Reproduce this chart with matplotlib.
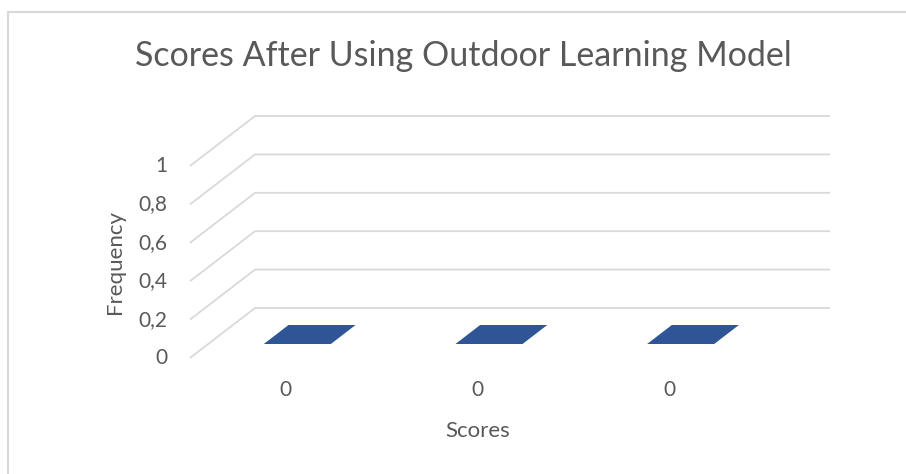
import matplotlib.pyplot as plt
from matplotlib.patches import Polygon, Rectangle

# === DATA ===
categories = ["0", "0", "0"]
frequency = [0, 0, 0]
y_ticks = [0, 0.2, 0.4, 0.6, 0.8, 1]
y_tick_labels = ["0", "0,2", "0,4", "0,6", "0,8", "1"]

bar_color = "#2F5597"
grid_color = "#D9D9D9"
text_color = "#595959"
font = "Lato"

W, H = 906, 474
fig = plt.figure(figsize=(W / 100, H / 100), dpi=100)

# front plane of the pseudo-3D plot: x 190..765 px, y(0)=358 px, y(1)=166 px
ax = fig.add_axes([190 / W, (H - 358) / H, 575 / W, 192 / H])
ax.set_xlim(-0.5, len(categories) - 0.5)
ax.set_ylim(0, 1)
ax.axis("off")

# depth offset (back wall) in data units
DX = 65 / 575 * len(categories)
DY = 50 / 192


def proj(x, y, d):
    return (x + d * DX, y + d * DY)


x_left, x_right = ax.get_xlim()

# gridlines: diagonal on the side wall + horizontal on the back wall
for t in y_ticks:
    p0 = proj(x_left, t, 0)
    p1 = proj(x_left, t, 1)
    p2 = proj(x_right, t, 1)
    ax.plot([p0[0], p1[0], p2[0]], [p0[1], p1[1], p2[1]],
            color=grid_color, lw=1.3, clip_on=False, solid_capstyle="butt")

# bars (flat tops since values are 0)
bw = 0.35
d1, d2 = 0.28, 0.66
for i, v in enumerate(frequency):
    x0 = i - bw / 2 - 0.035
    x1 = i + bw / 2 - 0.035
    pts = [proj(x0, v, d1), proj(x1, v, d1), proj(x1, v, d2), proj(x0, v, d2)]
    ax.add_patch(Polygon(pts, closed=True, facecolor=bar_color,
                         edgecolor="none", clip_on=False))

# tick labels
for t, lab in zip(y_ticks, y_tick_labels):
    ax.annotate(lab, xy=(x_left, t), xytext=(-23, 0), textcoords="offset pixels",
                ha="right", va="center", fontsize=15, color=text_color,
                family=font, annotation_clip=False)

for i, lab in enumerate(categories):
    ax.annotate(lab, xy=(i, 0), xytext=(0, -32), textcoords="offset pixels",
                ha="center", va="center", fontsize=15, color=text_color,
                family=font, annotation_clip=False)

# titles
fig.text(463 / W, 1 - 56 / H, "Scores After Using Outdoor Learning Model",
         ha="center", va="center", fontsize=24.5, color=text_color, family=font)
fig.text(478 / W, 1 - 431 / H, "Scores", ha="center", va="center",
         fontsize=16, color=text_color, family=font)
fig.text(115 / W, 1 - 262 / H, "Frequency", ha="center", va="center",
         rotation=90, fontsize=16, color=text_color, family=font)

# chart border
fig.patches.append(Rectangle((8 / W, -0.1), 1.2, 1 - 12 / H + 0.1,
                             transform=fig.transFigure, fill=False,
                             edgecolor=grid_color, lw=1.5))

fig.savefig("out.png", dpi=100)
